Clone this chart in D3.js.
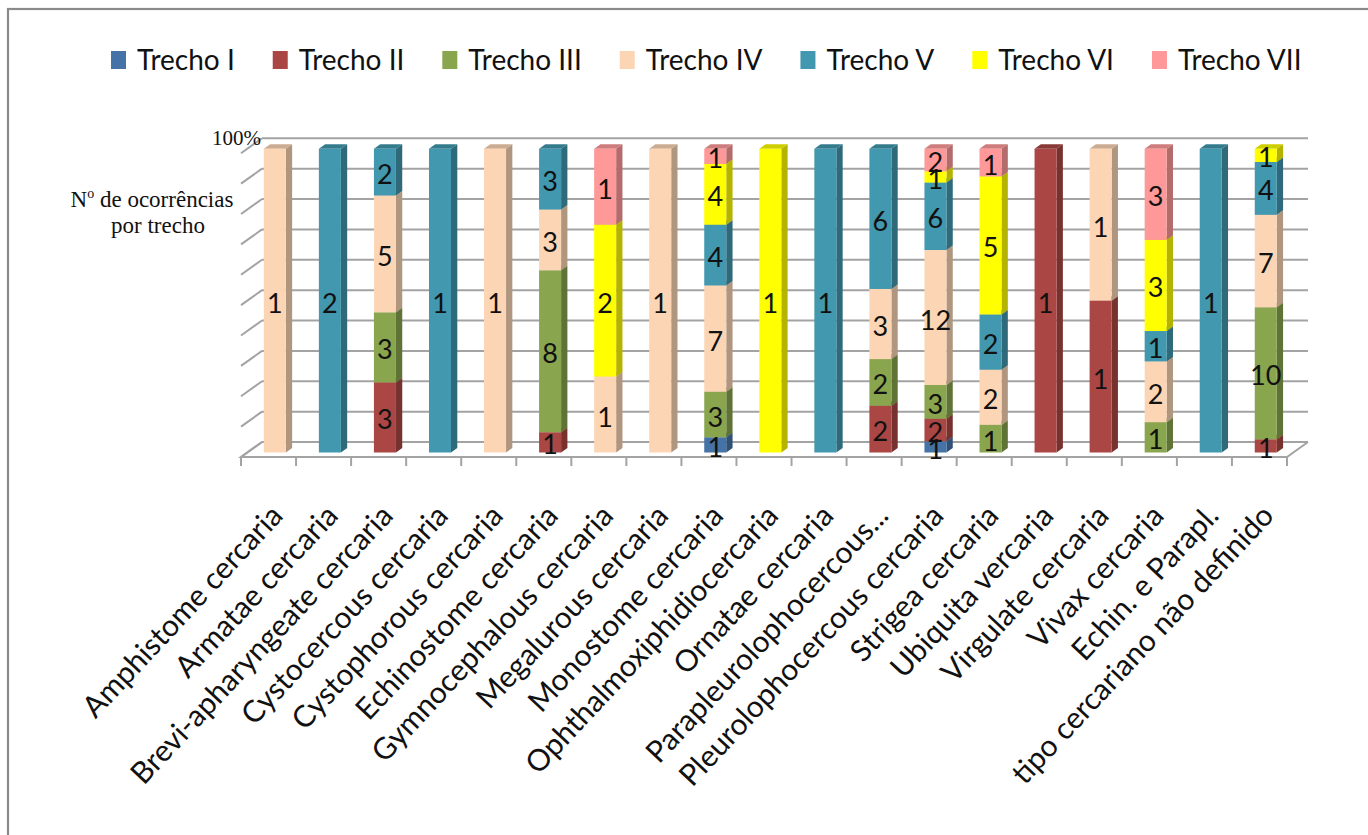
<!DOCTYPE html>
<html>
<head>
<meta charset="utf-8">
<script src="https://cdn.jsdelivr.net/npm/d3@7"></script>
<style>
  body { margin: 0; background: #fff; }
  svg { display: block; }
</style>
</head>
<body>
<svg id="chart" width="1368" height="835"></svg>
<script>
// Tipos cercarianos (categorias do eixo X)
const categories = [
  "Amphistome cercaria", "Armatae cercaria", "Brevi-apharyngeate cercaria",
  "Cystocercous cercaria", "Cystophorous cercaria", "Echinostome cercaria",
  "Gymnocephalous cercaria", "Megalurous cercaria", "Monostome cercaria",
  "Ophthalmoxiphidiocercaria", "Ornatae cercaria", "Parapleurolophocercous...",
  "Pleurolophocercous cercaria", "Strigea cercaria", "Ubiquita vercaria",
  "Virgulate cercaria", "Vivax cercaria", "Echin. e Parapl.",
  "tipo cercariano não definido"
];

const seriesNames = ["Trecho I", "Trecho II", "Trecho III", "Trecho IV", "Trecho V", "Trecho VI", "Trecho VII"];

// Nº de ocorrências por trecho
const trechoI   = [0, 0, 0, 0, 0, 0, 0, 0, 1, 0, 0, 0, 1, 0, 0, 0, 0, 0, 0];
const trechoII  = [0, 0, 3, 0, 0, 1, 0, 0, 0, 0, 0, 2, 2, 0, 1, 1, 0, 0, 1];
const trechoIII = [0, 0, 3, 0, 0, 8, 0, 0, 3, 0, 0, 2, 3, 1, 0, 0, 1, 0, 10];
const trechoIV  = [1, 0, 5, 0, 1, 3, 1, 1, 7, 0, 0, 3, 12, 2, 0, 1, 2, 0, 7];
const trechoV   = [0, 2, 2, 1, 0, 3, 0, 0, 4, 0, 1, 6, 6, 2, 0, 0, 1, 1, 4];
const trechoVI  = [0, 0, 0, 0, 0, 0, 2, 0, 4, 1, 0, 0, 1, 5, 0, 0, 3, 0, 1];
const trechoVII = [0, 0, 0, 0, 0, 0, 1, 0, 1, 0, 0, 0, 2, 1, 0, 0, 3, 0, 0];

const seriesColors = ["#4572A7", "#AA4643", "#89A54E", "#FCD5B5", "#4198AF", "#FFFF00", "#FF9999"];

const yTicks = [0, 0.1, 0.2, 0.3, 0.4, 0.5, 0.6, 0.7, 0.8, 0.9, 1];

// ---- table built from the arrays ----
const seriesValues = [trechoI, trechoII, trechoIII, trechoIV, trechoV, trechoVI, trechoVII];
const rows = categories.map((c, i) => {
  const r = { cat: c };
  seriesNames.forEach((s, k) => { r[s] = seriesValues[k][i]; });
  return r;
});

const stacked = d3.stack()
  .keys(seriesNames)
  .offset(d3.stackOffsetExpand)(rows);

// ---- geometry ----
const svg = d3.select("#chart");
const W = 1368, H = 835;

// front plane of the plot box, depth offsets for the 3D view
const X0 = 241, X1 = 1287;
const DX = 21, DY = 15;          // full-depth shift (back wall)
const zFront = 0.3, zBack = 0.6; // bar depth within the box

const x = d3.scaleBand().domain(categories).range([X0, X1])
  .paddingInner(0.6).paddingOuter(0.3);
const y = d3.scaleLinear().domain([0, 1]).range([457, 153.3]);

// project (screen x on front plane, value, depth) -> screen coords
const P = (px, v, z) => [px + z * DX, y(v) - z * DY];

// outer frame
svg.append("rect")
  .attr("x", 8).attr("y", 9).attr("width", W + 40).attr("height", H + 40)
  .attr("fill", "#fff").attr("stroke", "#8a8a8a").attr("stroke-width", 2.2);

const gridColor = "#a3a3a3";
const grid = svg.append("g").attr("stroke", gridColor).attr("stroke-width", 2).attr("fill", "none");

// back wall gridlines
grid.selectAll("line.h").data(yTicks).join("line")
  .attr("class", "h")
  .attr("x1", d => P(X0, d, 1)[0]).attr("y1", d => P(X0, d, 1)[1])
  .attr("x2", d => P(X1, d, 1)[0]).attr("y2", d => P(X1, d, 1)[1]);

// side wall gridlines (diagonals)
grid.selectAll("line.s").data(yTicks).join("line")
  .attr("class", "s")
  .attr("x1", d => P(X0, d, 0)[0]).attr("y1", d => P(X0, d, 0)[1])
  .attr("x2", d => P(X0, d, 1)[0]).attr("y2", d => P(X0, d, 1)[1]);

// floor edges
const floorPts = [P(X0, 0, 1), P(X0, 0, 0), P(X1, 0, 0), P(X1, 0, 1)];
grid.append("path").attr("d", d3.line()(floorPts));

// category tick marks along the front floor edge
const bounds = d3.range(categories.length + 1).map(i => X0 + i * x.step());
grid.selectAll("line.t").data(bounds).join("line")
  .attr("class", "t")
  .attr("x1", d => d).attr("y1", y(0))
  .attr("x2", d => d).attr("y2", y(0) + 9);

// ---- 3D stacked bars ----
const bars = svg.append("g");
categories.forEach((c, i) => {
  const xl = x(c), xr = x(c) + x.bandwidth();
  stacked.forEach((layer, k) => {
    const d = layer[i];
    const v0 = d[0], v1 = d[1];
    if (!(v1 - v0 > 0)) return;
    const col = d3.color(seriesColors[k]);
    const g = bars.append("g");
    // right side face
    g.append("path")
      .attr("d", d3.line()([P(xr, v0, zFront), P(xr, v0, zBack), P(xr, v1, zBack), P(xr, v1, zFront)]) + "Z")
      .attr("fill", col.darker(1.0));
    // top face
    g.append("path")
      .attr("d", d3.line()([P(xl, v1, zFront), P(xr, v1, zFront), P(xr, v1, zBack), P(xl, v1, zBack)]) + "Z")
      .attr("fill", col.darker(0.6));
    // front face
    const a = P(xl, v1, zFront), b = P(xr, v0, zFront);
    g.append("rect")
      .attr("x", a[0]).attr("y", a[1])
      .attr("width", b[0] - a[0]).attr("height", b[1] - a[1])
      .attr("fill", col.toString());
  });
});

// value labels on each segment
const labels = svg.append("g")
  .attr("font-family", "Lato, 'Open Sans', sans-serif")
  .attr("font-size", 27)
  .attr("fill", "#111")
  .attr("text-anchor", "middle");
categories.forEach((c, i) => {
  const cx = x(c) + x.bandwidth() / 2;
  stacked.forEach((layer, k) => {
    const d = layer[i];
    const val = seriesValues[k][i];
    if (!val) return;
    const p = P(cx, (d[0] + d[1]) / 2, zFront);
    labels.append("text")
      .attr("x", p[0]).attr("y", p[1] + 12)
      .text(val);
  });
});

// category labels, rotated
svg.append("g")
  .attr("font-family", "Lato, 'Open Sans', sans-serif")
  .attr("font-size", 30)
  .attr("fill", "#111")
  .selectAll("text").data(categories).join("text")
  .attr("text-anchor", "end")
  .attr("transform", c => `translate(${x(c) + x.bandwidth() / 2 + 16},517) rotate(-47)`)
  .text(c => c);

// y axis: top tick label and title
const serif = "'Liberation Serif', 'Times New Roman', serif";
svg.append("text")
  .attr("x", 261).attr("y", P(X0, 1, 1)[1] + 7)
  .attr("text-anchor", "end")
  .attr("font-family", serif).attr("font-size", 21)
  .attr("fill", "#111")
  .text("100%");

const title = svg.append("text")
  .attr("font-family", serif).attr("font-size", 23)
  .attr("fill", "#111").attr("text-anchor", "middle");
const l1 = title.append("tspan").attr("x", 152).attr("y", 207);
l1.append("tspan").text("N");
l1.append("tspan").attr("font-size", 14).attr("dy", -9).text("o");
l1.append("tspan").attr("dy", 9).text(" de ocorrências");
title.append("tspan").attr("x", 158).attr("y", 233).text("por trecho");

// legend
const legend = svg.append("g")
  .attr("font-family", "Lato, 'Open Sans', sans-serif")
  .attr("font-size", 28)
  .attr("fill", "#111");
let lx = 111;
seriesNames.forEach((s, k) => {
  legend.append("rect")
    .attr("x", lx).attr("y", 51).attr("width", 15).attr("height", 18)
    .attr("fill", seriesColors[k]);
  const t = legend.append("text")
    .attr("x", lx + 26).attr("y", 70)
    .text(s);
  lx += 26 + t.node().getComputedTextLength() + 38;
});
</script>
</body>
</html>
